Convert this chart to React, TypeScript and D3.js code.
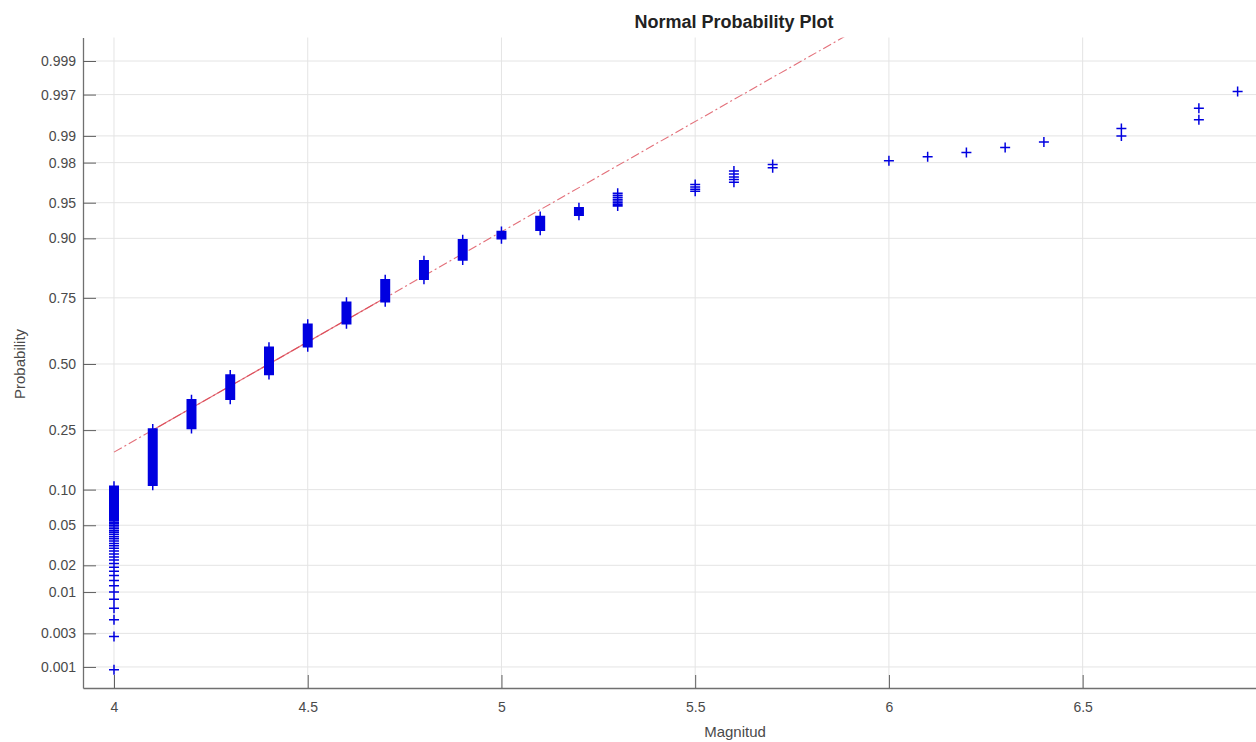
import { useEffect, useRef } from 'react';
import * as d3 from 'd3';

// magnitudes in the catalogue and how many events have each one (last one sits past the right edge)
const magnitudes = [4.0, 4.1, 4.2, 4.3, 4.4, 4.5, 4.6, 4.7, 4.8, 4.9, 5.0, 5.1, 5.2, 5.3, 5.5, 5.6, 5.7, 6.0, 6.1, 6.2, 6.3, 6.4, 6.6, 6.8, 6.9, 7.2];
const counts = [59, 81, 57, 54, 62, 49, 43, 38, 27, 24, 8, 12, 6, 8, 4, 5, 2, 1, 1, 1, 1, 1, 2, 2, 1, 1];

const probTicks = [0.001, 0.003, 0.01, 0.02, 0.05, 0.1, 0.25, 0.5, 0.75, 0.9, 0.95, 0.98, 0.99, 0.997, 0.999];
const probLabels = ['0.001', '0.003', '0.01', '0.02', '0.05', '0.10', '0.25', '0.50', '0.75', '0.90', '0.95', '0.98', '0.99', '0.997', '0.999'];
const magTicks = [4, 4.5, 5, 5.5, 6, 6.5];
const magLabels = ['4', '4.5', '5', '5.5', '6', '6.5'];

const chartTitle = 'Normal Probability Plot';
const xTitle = 'Magnitud';
const yTitle = 'Probability';

// inverse standard normal cdf (Acklam's rational approximation)
function probit(p: number): number {
  const a = [-39.69683028665376, 220.9460984245205, -275.9285104469687, 138.357751867269, -30.66479806614716, 2.506628277459239];
  const b = [-54.47609879822406, 161.5858368580409, -155.6989798598866, 66.80131188771972, -13.28068155288572];
  const c = [-0.007784894002430293, -0.3223964580411365, -2.400758277161838, -2.549732539343734, 4.374664141464968, 2.938163982698783];
  const d = [0.007784695709041462, 0.3224671290700398, 2.445134137142996, 3.754408661907416];
  const pLow = 0.02425;
  if (p < pLow) {
    const q = Math.sqrt(-2 * Math.log(p));
    return (((((c[0] * q + c[1]) * q + c[2]) * q + c[3]) * q + c[4]) * q + c[5]) / ((((d[0] * q + d[1]) * q + d[2]) * q + d[3]) * q + 1);
  }
  if (p <= 1 - pLow) {
    const q = p - 0.5, r = q * q;
    return (((((a[0] * r + a[1]) * r + a[2]) * r + a[3]) * r + a[4]) * r + a[5]) * q / (((((b[0] * r + b[1]) * r + b[2]) * r + b[3]) * r + b[4]) * r + 1);
  }
  const q = Math.sqrt(-2 * Math.log(1 - p));
  return -(((((c[0] * q + c[1]) * q + c[2]) * q + c[3]) * q + c[4]) * q + c[5]) / ((((d[0] * q + d[1]) * q + d[2]) * q + d[3]) * q + 1);
}

export default function App() {
  const width = 1256;
  const height = 742;
  const left = 83;
  const top = 37.5;
  const bottom = 688;
  const right = 1256;
  const font = '"Liberation Sans", Arial, Helvetica, sans-serif';

  const x = d3.scaleLinear().domain([3.92, 6.95]).range([left, 1257]);
  // y works in normal quantiles, labelled with probabilities
  const y = d3.scaleLinear().domain([-3.305, 3.33]).range([bottom, top]);

  // sorted sample -> plotting positions (i - 0.5) / n, like matlab normplot
  const sample = magnitudes.flatMap((m, i) => Array(counts[i]).fill(m) as number[]);
  const n = sample.length;
  const points = sample.map((m, i) => ({ m, z: probit((i + 0.5) / n) }));

  const q1 = d3.quantile(sample, 0.25)!;
  const q3 = d3.quantile(sample, 0.75)!;
  const z1 = probit(0.25);
  const z3 = probit(0.75);
  const fit = (m: number) => z1 + (m - q1) * (z3 - z1) / (q3 - q1);
  const fitLine = d3.line<number>().x(m => x(m)).y(m => y(fit(m)));
  const minM = d3.min(sample)!;
  const maxM = d3.max(sample)!;

  const markers = d3.path();
  const h = 5;
  points.forEach(p => {
    const px = x(p.m), py = y(p.z);
    markers.moveTo(px - h, py);
    markers.lineTo(px + h, py);
    markers.moveTo(px, py - h);
    markers.lineTo(px, py + h);
  });

  const gx = useRef<SVGGElement>(null);
  const gy = useRef<SVGGElement>(null);

  useEffect(() => {
    if (gx.current) {
      const g = d3.select(gx.current);
      g.call(d3.axisBottom(x).tickValues(magTicks).tickFormat((_, i) => magLabels[i]).tickSizeInner(-13).tickSizeOuter(0).tickPadding(14));
      g.attr('font-size', 14).attr('font-family', font);
      g.select('.domain').attr('stroke', '#707070').attr('stroke-width', 1.3);
      g.selectAll('.tick line').attr('stroke', '#606060');
      g.selectAll('.tick text').attr('fill', '#4a4a4a');
    }
    if (gy.current) {
      const g = d3.select(gy.current);
      g.call(d3.axisLeft(y).tickValues(probTicks.map(probit)).tickFormat((_, i) => probLabels[i]).tickSizeInner(-13).tickSizeOuter(0).tickPadding(7));
      g.attr('font-size', 14).attr('font-family', font);
      g.select('.domain').attr('stroke', '#707070').attr('stroke-width', 1.3);
      g.selectAll('.tick line').attr('stroke', '#606060');
      g.selectAll('.tick text').attr('fill', '#4a4a4a');
    }
  }, []);

  return (
    <svg width={width} height={height} style={{ position: 'absolute', left: 0, top: 0, display: 'block', background: '#fff' }}>
      <defs>
        <clipPath id="plotArea">
          <rect x={left} y={top} width={right - left} height={bottom - top} />
        </clipPath>
      </defs>
      <rect x={0} y={0} width={width} height={height} fill="#fff" />
      {/* grid */}
      <g stroke="#e4e4e4" strokeWidth={1}>
        {magTicks.map(t => (
          <line key={'gx' + t} x1={x(t)} x2={x(t)} y1={top} y2={bottom} />
        ))}
        {probTicks.map(p => (
          <line key={'gy' + p} x1={left} x2={right} y1={y(probit(p))} y2={y(probit(p))} />
        ))}
      </g>
      <g clipPath="url(#plotArea)">
        <path d={fitLine([minM, maxM]) ?? ''} fill="none" stroke="#d9404e" strokeOpacity={0.75} strokeWidth={1.1} strokeDasharray="9,3,2,3" />
        <path d={fitLine([q1, q3]) ?? ''} fill="none" stroke="#d9404e" strokeOpacity={0.75} strokeWidth={1.1} />
        <path d={markers.toString()} fill="none" stroke="#0000e0" strokeWidth={1.5} />
      </g>
      <g ref={gx} transform={`translate(0,${bottom})`} />
      <g ref={gy} transform={`translate(${left},0)`} />
      <text x={734} y={28} textAnchor="middle" fontFamily={font} fontWeight="bold" fontSize={18} fill="#222">
        {chartTitle}
      </text>
      <text x={735} y={737} textAnchor="middle" fontFamily={font} fontSize={15} fill="#4a4a4a">
        {xTitle}
      </text>
      <text transform={`translate(25,${y(0)}) rotate(-90)`} textAnchor="middle" fontFamily={font} fontSize={15} fill="#4a4a4a">
        {yTitle}
      </text>
    </svg>
  );
}
